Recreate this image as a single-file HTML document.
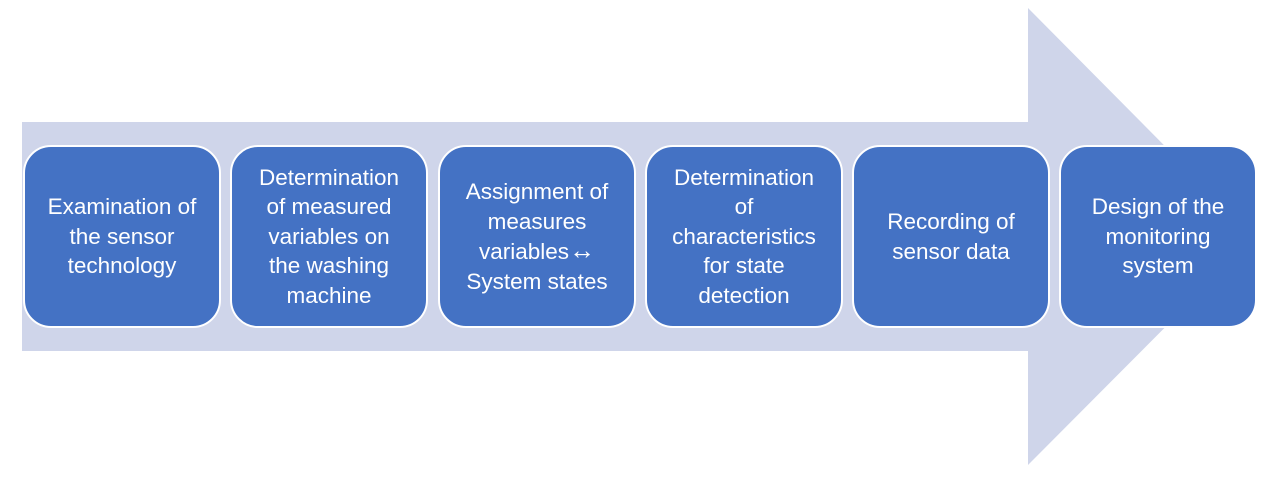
<!DOCTYPE html>
<html><head><style>
body{margin:0;width:1280px;height:480px;background:#fff;position:relative;overflow:hidden;font-family:"Liberation Sans",sans-serif}
svg{position:absolute;left:0;top:0}
.b{position:absolute;top:145px;height:183px;width:198px;box-sizing:border-box;background:#4472C4;border:2px solid #fff;border-radius:28px;color:#fff;font-size:22.5px;line-height:29.5px;text-align:center;display:flex;align-items:center;justify-content:center;padding:0 2px;white-space:nowrap}
</style></head><body>
<svg width="1280" height="480"><polygon points="22,122 1028,122 1028,8 1255,237 1028,465 1028,351 22,351" fill="#CFD5EA"/></svg>
<div class="b" style="left:23px"><div>Examination of<br>the sensor<br>technology</div></div>
<div class="b" style="left:230px"><div>Determination<br>of measured<br>variables on<br>the washing<br>machine</div></div>
<div class="b" style="left:438px"><div>Assignment of<br>measures<br>variables<span style="font-size:26px;line-height:29.5px">↔</span><br>System states</div></div>
<div class="b" style="left:645px"><div>Determination<br>of<br>characteristics<br>for state<br>detection</div></div>
<div class="b" style="left:852px"><div>Recording of<br>sensor data</div></div>
<div class="b" style="left:1059px"><div>Design of the<br>monitoring<br>system</div></div>
</body></html>
